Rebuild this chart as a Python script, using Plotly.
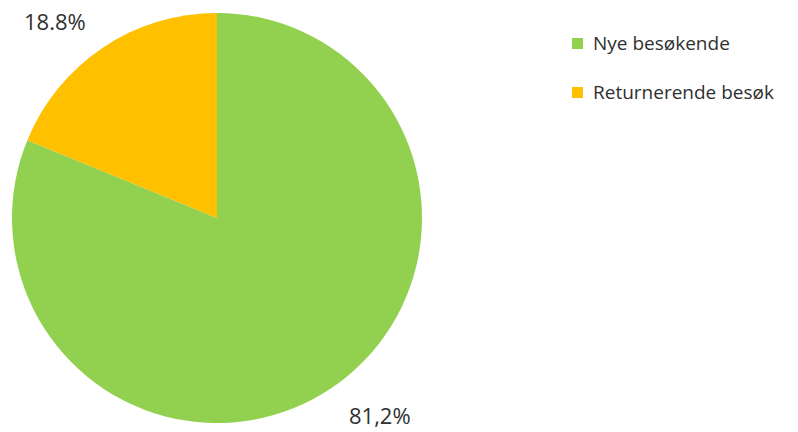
import plotly.graph_objects as go

categories = ["Nye besøkende", "Returnerende besøk"]
values = [81.2, 18.8]
value_labels = ["81,2%", "18.8%"]
colors = ["#92D050", "#FFC000"]

W, H = 798, 432
cx, cy, r = 217, 218, 205

fig = go.Figure(go.Pie(
    labels=categories,
    values=values,
    sort=False,
    direction="clockwise",
    rotation=0,
    marker=dict(colors=colors, line=dict(width=0)),
    textinfo="none",
    hoverinfo="label+percent",
    showlegend=False,
    domain=dict(x=[(cx - r) / W, (cx + r) / W], y=[1 - (cy + r) / H, 1 - (cy - r) / H]),
))

font = dict(family="'Open Sans', Lato, sans-serif", size=19, color="#303030")

# data labels
label_pos = [(380, 415), (55, 21)]
for txt, (x, y) in zip(value_labels, label_pos):
    fig.add_annotation(x=x / W, y=1 - y / H, xref="paper", yref="paper",
                       text=txt, showarrow=False, font=dict(font, size=22),
                       xanchor="center", yanchor="middle")

# manual legend
leg_y = [43.5, 92.5]
for name, col, y in zip(categories, colors, leg_y):
    fig.add_shape(type="rect", xref="paper", yref="paper",
                  x0=572 / W, x1=583 / W, y0=1 - (y + 5.5) / H, y1=1 - (y - 5.5) / H,
                  fillcolor=col, line=dict(width=0))
    fig.add_annotation(x=591 / W, y=1 - y / H, xref="paper", yref="paper",
                       text=name, showarrow=False, font=font,
                       xanchor="left", yanchor="middle")

fig.update_layout(
    width=W, height=H,
    margin=dict(l=0, r=0, t=0, b=0),
    paper_bgcolor="white",
    plot_bgcolor="white",
)

fig.write_html("out.html", config={"displayModeBar": False},
               post_script="document.body.style.margin='0';")
